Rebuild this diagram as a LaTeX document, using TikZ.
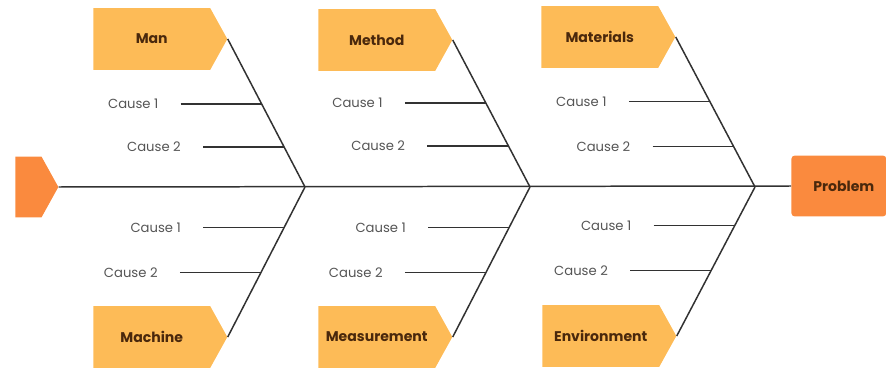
\documentclass[tikz,border=0pt]{standalone}
\usepackage{fontspec}
\setmainfont{Poppins}
\usetikzlibrary{positioning,calc,shapes.symbols}
\definecolor{boxfill}{RGB}{253,187,87}
\definecolor{headfill}{RGB}{250,138,62}
\definecolor{labeltext}{RGB}{74,40,12}
\definecolor{causetext}{RGB}{85,85,85}
\definecolor{boneline}{RGB}{50,50,50}
\tikzset{
  catbox/.style={signal, signal to=east, signal from=nowhere, signal pointer angle=122,
    fill=boxfill, draw=none, minimum width=2.68cm, minimum height=1.24cm, inner sep=0pt,
    text=labeltext, font=\fontsize{8}{10}\selectfont\bfseries, anchor=west},
  cause/.style={text=causetext, font=\fontsize{7.5}{9}\selectfont, inner sep=0pt},
  bone/.style={draw=boneline, line width=0.85pt},
  twig/.style={draw=boneline, line width=0.85pt}
}
\begin{document}
\begin{tikzpicture}[x=0.02cm, y=-0.02cm]
      \useasboundingbox (0,0) rectangle (886,368);
      \node [signal, signal to=east, signal from=nowhere, signal pointer angle=122, fill=headfill,
             minimum width=0.86cm, minimum height=1.22cm, inner sep=0pt, anchor=west] (tail) at (15,187) {};
      \node [rectangle, rounded corners=2pt, fill=headfill, minimum width=1.9cm, minimum height=1.22cm,
             text=labeltext, font=\fontsize{8}{10}\selectfont\bfseries, anchor=west] (prob) at (791,186) {\hspace{0.2cm}Problem};
      \coordinate (j1) at (305,187);
      \coordinate (j2) at (530,187);
      \coordinate (j3) at (755,187);
      \draw [bone] (tail.east) -- (prob.west);
      \node [catbox] (man) at (93,39) {Man};
      \node [catbox] (method) at (318,40) {Method};
      \node [catbox] (materials) at (541,37) {Materials};
      \node [catbox] (machine) at (93,337) {Machine};
      \node [catbox] (measure) at (318,337) {Measurement};
      \node [catbox] (environ) at (542,336) {Environment};
      \draw [bone] (man.east) -- (j1);
      \draw [bone] (method.east) -- (j2);
      \draw [bone] (materials.east) -- (j3);
      \draw [bone] (machine.east) -- (j1);
      \draw [bone] (measure.east) -- (j2);
      \draw [bone] (environ.east) -- (j3);
      \coordinate (a1) at ($(man.east)!0.44!(j1)$);
      \coordinate (a2) at ($(man.east)!0.73!(j1)$);
      \coordinate (b1) at ($(method.east)!0.43!(j2)$);
      \coordinate (b2) at ($(method.east)!0.72!(j2)$);
      \coordinate (c1) at ($(materials.east)!0.43!(j3)$);
      \coordinate (c2) at ($(materials.east)!0.73!(j3)$);
      \coordinate (d1) at ($(j1)!0.27!(machine.east)$);
      \coordinate (d2) at ($(j1)!0.57!(machine.east)$);
      \coordinate (e1) at ($(j2)!0.27!(measure.east)$);
      \coordinate (e2) at ($(j2)!0.57!(measure.east)$);
      \coordinate (f1) at ($(j3)!0.26!(environ.east)$);
      \coordinate (f2) at ($(j3)!0.56!(environ.east)$);
      \node [cause, left=2.06cm of a1] (ca1) {Cause 1};
      \node [cause, left=2.06cm of a2] (ca2) {Cause 2};
      \node [cause, left=2.06cm of b1] (cb1) {Cause 1};
      \node [cause, left=2.06cm of b2] (cb2) {Cause 2};
      \node [cause, left=2.06cm of c1] (cc1) {Cause 1};
      \node [cause, left=2.06cm of c2] (cc2) {Cause 2};
      \node [cause, left=2.06cm of d1] (cd1) {Cause 1};
      \node [cause, left=2.06cm of d2] (cd2) {Cause 2};
      \node [cause, left=2.06cm of e1] (ce1) {Cause 1};
      \node [cause, left=2.06cm of e2] (ce2) {Cause 2};
      \node [cause, left=2.06cm of f1] (cf1) {Cause 1};
      \node [cause, left=2.06cm of f2] (cf2) {Cause 2};
      \draw [twig] ([xshift=0.44cm]ca1.east) -- (a1);
      \draw [twig] ([xshift=0.44cm]ca2.east) -- (a2);
      \draw [twig] ([xshift=0.44cm]cb1.east) -- (b1);
      \draw [twig] ([xshift=0.44cm]cb2.east) -- (b2);
      \draw [twig] ([xshift=0.44cm]cc1.east) -- (c1);
      \draw [twig] ([xshift=0.44cm]cc2.east) -- (c2);
      \draw [twig] ([xshift=0.44cm]cd1.east) -- (d1);
      \draw [twig] ([xshift=0.44cm]cd2.east) -- (d2);
      \draw [twig] ([xshift=0.44cm]ce1.east) -- (e1);
      \draw [twig] ([xshift=0.44cm]ce2.east) -- (e2);
      \draw [twig] ([xshift=0.44cm]cf1.east) -- (f1);
      \draw [twig] ([xshift=0.44cm]cf2.east) -- (f2);
\end{tikzpicture}
\end{document}
